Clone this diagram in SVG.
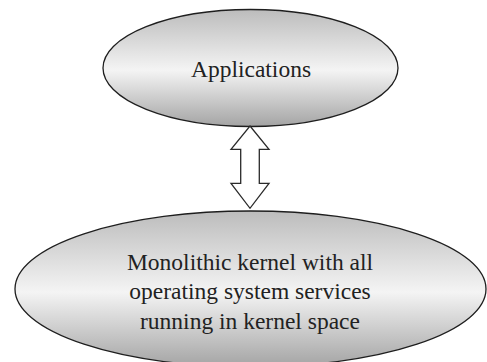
<svg xmlns="http://www.w3.org/2000/svg" width="487" height="362" viewBox="0 0 487 362">
  <defs>
    <!-- metallic shading: grey top, bright middle band, darker bottom -->
    <linearGradient id="shade" x1="0" y1="0" x2="0" y2="1">
      <stop offset="0" stop-color="#bcbcbc"/>
      <stop offset="0.52" stop-color="#f4f4f4"/>
      <stop offset="1" stop-color="#a4a4a4"/>
    </linearGradient>
  </defs>
  <style>
    .node { fill: url(#shade); stroke: #1e1e1e; stroke-width: 1.3; }
    .label { fill: #222222; text-anchor: middle; }
    .arrow { fill: #ffffff; stroke: #2a2a2a; stroke-width: 1.3; stroke-linejoin: miter; }
  </style>
  <rect width="487" height="362" fill="#ffffff"/>

  <g id="applications">
    <ellipse class="node" cx="250.5" cy="68" rx="147.5" ry="58.5"/>
    <text class="label" x="251" y="77.3" font-family="'Liberation Serif', 'DejaVu Serif', serif" font-size="23.5">Applications</text>
  </g>

  <g id="kernel" font-family="'Liberation Serif', 'DejaVu Serif', serif" font-size="23.5">
    <ellipse class="node" cx="250.5" cy="289" rx="235.5" ry="78"/>
    <text class="label" x="250" y="269.5">Monolithic kernel with all</text>
    <text class="label" x="250" y="299">operating system services</text>
    <text class="label" x="250" y="328.5">running in kernel space</text>
  </g>

  <g id="connectors">
    <!-- two-headed block arrow between the layers -->
    <polygon class="arrow" points="250,126 269,149.3 259.3,149.3 259.3,183.3 269,183.3 250,208.3 231,183.3 240.7,183.3 240.7,149.3 231,149.3"/>
  </g>
</svg>
